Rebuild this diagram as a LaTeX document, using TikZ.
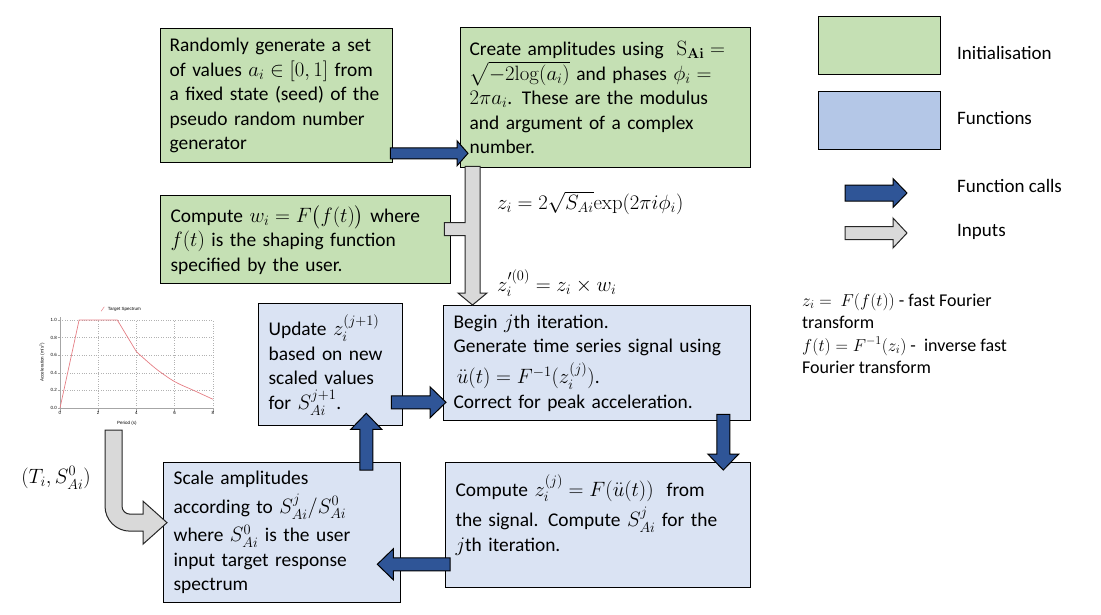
\documentclass[tikz,border=0pt]{standalone}
\usepackage{amsmath,amssymb}
\usepackage[no-math]{fontspec}
\setmainfont{Carlito}
\newfontfamily\chartfont{Liberation Sans}
\usetikzlibrary{calc,positioning}

\definecolor{initgreen}{HTML}{C5E0B4}
\definecolor{funcblue}{HTML}{DAE3F3}
\definecolor{legblue}{HTML}{B4C7E7}
\definecolor{callblue}{HTML}{2F5597}
\definecolor{inputgray}{HTML}{D9D9D9}
\definecolor{specred}{HTML}{E57E84}

\tikzset{
  blockarrow/.style n args={3}{to path={
    let \p1=(\tikztostart), \p2=(\tikztotarget),
        \n1={atan2(\y2-\y1,\x2-\x1)}, \n2={veclen(\x2-\x1,\y2-\y1)} in
    [shift={(\p1)}, rotate=\n1]
    (0pt,-#1pt) -- (\n2-#3pt,-#1pt) -- (\n2-#3pt,-#2pt) -- (\n2,0pt)
    -- (\n2-#3pt,#2pt) -- (\n2-#3pt,#1pt) -- (0pt,#1pt) -- cycle}},
}

\begin{document}
\begin{tikzpicture}[x=1pt, y=-1pt,
  font=\fontsize{19.4}{24.5}\selectfont,
  initbox/.style={draw, line width=1.3pt, fill=initgreen, anchor=north west, align=left, inner xsep=10pt, inner ysep=3pt},
  funcbox/.style={initbox, fill=funcblue, execute at begin node={\lineskiplimit=3pt\lineskip=6pt}},
  legbox/.style={draw, line width=1.3pt, anchor=north west, inner sep=0pt},
  legtext/.style={anchor=west, inner sep=0pt, font=\fontsize{19}{23}\selectfont},
  fcall/.style={draw=black, line width=1pt, fill=callblue, blockarrow={6.5}{15.5}{16}},
  inputarr/.style={draw=black!85, line width=1pt, fill=inputgray},
  inarrow/.style={inputarr, blockarrow={6.5}{15}{14}},
  formula/.style={anchor=west, inner sep=0pt},
  chartgrid/.style={gray!60, dotted, line width=0.4pt}
]
\useasboundingbox (0,0) rectangle (1101,614);

% target spectrum inset
\begin{scope}[shift={(60,408)}, x=19.1pt, y=88pt, font=\chartfont\fontsize{4.5}{5}\selectfont]
  \foreach \v in {0.2,0.4,0.6,0.8,1.0} \draw[chartgrid] (0,\v) -- (8,\v);
  \foreach \t in {2,4,6,8} \draw[chartgrid] (\t,0) -- (\t,1);
  \draw[gray!70, line width=0.6pt] (0,1.03) -- (0,0) -- (8,0);
  \foreach \v [count=\i] in {0.0,0.2,0.4,0.6,0.8,1.0} {
    \draw[gray!70, line width=0.4pt] (-0.12,\v) -- (0,\v);
    \node[left, inner sep=1pt] (yl\i) at (-0.1,\v) {\v};
  }
  \foreach \t in {0,2,4,6,8} {
    \draw[gray!70, line width=0.4pt] (\t,0) -- (\t,-0.04);
    \node[below, inner sep=1pt] (xl\t) at (\t,-0.03) {\t};
  }
  \node (perlbl) at (3.5,-0.17) {Period (s)};
  \node[rotate=90] (acclbl) at (-0.94,0.52) {Acceleration (m/s\textsuperscript{2})};
  \draw[specred, line width=0.5pt] (2.15,1.1) -- (2.32,1.15);
  \node[anchor=west, inner sep=0pt] (speclbl) at (2.5,1.125) {Target Spectrum};
  \draw[specred, line width=0.7pt] (0,0) -- (1,1) -- (3,1) -- (4,0.64)
    plot[smooth] coordinates {(4,0.64) (5,0.45) (6,0.3) (7,0.2) (8,0.1)};
\end{scope}
\node[font=\fontsize{22}{26}\selectfont] (specin) at (56,478) {$(T_i, S_{Ai}^0)$};

% initialisation boxes
\node[initbox, inner xsep=9pt, minimum width=230pt, minimum height=134pt, text width=214pt] (randgen) at (160,28)
  {Randomly generate a set\\ of values $a_i \in [0,1]$ from\\ a fixed state (seed) of the\\ pseudo random number\\ generator};
\node[initbox, inner xsep=9pt, minimum width=288pt, minimum height=140pt, text width=272pt] (amp) at (460,27)
  {Create amplitudes using\ \ $\mathrm{S}_{\mathbf{Ai}} =$\\ $\sqrt{-2\mathrm{log}(a_i)}$ and phases $\phi_i =$\\ $2\pi a_i$. These are the modulus\\ and argument of a complex\\ number.};
\node[initbox, minimum width=290pt, minimum height=88pt, text width=270pt] (shaping) at (160,195)
  {Compute $w_i = F\big(f(t)\big)$ where\\ $f(t)$ is the shaping function\\ specified by the user.};

% function boxes
\node[funcbox, minimum width=144pt, minimum height=122pt, text width=124pt] (update) at (258,303)
  {Update $z_i^{(j+1)}$\\ based on new\\ scaled values\\ for $S_{Ai}^{j+1}$.};
\node[funcbox, minimum width=307pt, minimum height=115pt, text width=287pt] (iter) at (443,305)
  {Begin $j$th iteration.\\ Generate time series signal using\\ \,$\ddot{u}(t) = F^{-1}(z_i^{(j)})$.\\ Correct for peak acceleration.};
\node[funcbox, minimum width=237pt, minimum height=140pt, text width=217pt] (scale) at (163,462)
  {Scale amplitudes\\ according to $S_{Ai}^j/S_{Ai}^0$\\ where $S_{Ai}^0$ is the user\\ input target response\\ spectrum};
\node[funcbox, minimum width=305pt, minimum height=125pt, text width=285pt] (cgen) at (445,462)
  {Compute $z_i^{(j)} = F(\ddot{u}(t))$\ \ from\\ the signal. Compute $S_{Ai}^j$ for the\\ $j$th iteration.\\ \mbox{}};

% inputs
\coordinate (gt) at ($(amp.south west)+(12.5,-2)$);
\coordinate (gtip) at (gt |- iter.north);
\coordinate (gs) at ($(shaping.east)+(-7,-10.5)$);
\draw[inputarr] ($(gt)+(-7.5,0)$) -- ($(gt |- gs)+(-7.5,-6.5)$) -- ($(gs)+(0,-6.5)$) -- ($(gs)+(0,6.5)$)
  -- ($(gt |- gs)+(-7.5,6.5)$) -- ($(gtip)+(-7.5,-12)$) -- ($(gtip)+(-14.5,-12)$) -- (gtip)
  -- ($(gtip)+(14.5,-12)$) -- ($(gtip)+(7.5,-12)$) -- ($(gt)+(7.5,0)$) -- cycle;
\coordinate (spec) at (113.5,430);
\coordinate (stip) at ($(scale.west)+(4,-10)$);
\draw[inputarr] ($(spec)+(-8.5,0)$) -- ($(spec |- stip)+(-8.5,-16.5)$)
  arc[start angle=180, end angle=270, radius=25pt] -- ($(stip)+(-24,8.5)$) -- ($(stip)+(-24,21.5)$)
  -- (stip) -- ($(stip)+(-24,-21.5)$) -- ($(stip)+(-24,-8.5)$) -- ($(spec |- stip)+(16.5,-8.5)$)
  arc[start angle=270, end angle=180, radius=8pt] -- ($(spec)+(8.5,0)$) -- cycle;

% function calls
\draw[fcall, blockarrow={5.5}{12.5}{11}] ($(randgen.south east)+(-3,-10)$) to ($(amp.south west)+(8,-15)$);
\draw[fcall] ($(update.south east)+(-12,-24)$) to ($(iter.south west)+(3,-19)$);
\draw[fcall] ($(iter.south east)+(-28,-7)$) to ($(cgen.north east)+(-28,8)$);
\draw[fcall] ($(cgen.south west)+(5,-24)$) to ($(scale.south east)+(-24,-39)$);
\draw[fcall] ($(scale.north east)+(-35,8)$) to ($(update.south east)+(-37,-13)$);

% formulas
\node[formula] (zform) at (497,203) {$z_i = 2\sqrt{S_{Ai}}\mathrm{exp}(2\pi i\phi_i)$};
\node[formula] (zwform) at (497,283) {$z_i'^{(0)} = z_i \times w_i$};
\node[anchor=north west, align=left, inner sep=0pt, font=\fontsize{18}{22.5}\selectfont] (fftnote) at (802,293)
  {$z_i =\ F(f(t))$ - fast Fourier\\ transform\\ $f(t) = F^{-1}(z_i)$ -\ \ inverse fast\\ Fourier transform};

% legend
\node[legbox, fill=initgreen, minimum width=122pt, minimum height=58pt] (legInit) at (818,16) {};
\node[legbox, fill=legblue, minimum width=122pt, minimum height=58pt] (legFunc) at (818,91) {};
\node[legtext] (legInitTxt) at (957,53) {Initialisation};
\node[legtext] (legFuncTxt) at (957,118) {Functions};
\coordinate (legCall0) at (845,193);
\coordinate (legCall1) at (907,193);
\draw[fcall, blockarrow={8}{14.5}{14}] (legCall0) to (legCall1);
\node[legtext] (legCallTxt) at (957,186) {Function calls};
\coordinate (legIn0) at (845,233);
\coordinate (legIn1) at (907,233);
\draw[inarrow] (legIn0) to (legIn1);
\node[legtext] (legInTxt) at (957,232) {Inputs};
\end{tikzpicture}
\end{document}
